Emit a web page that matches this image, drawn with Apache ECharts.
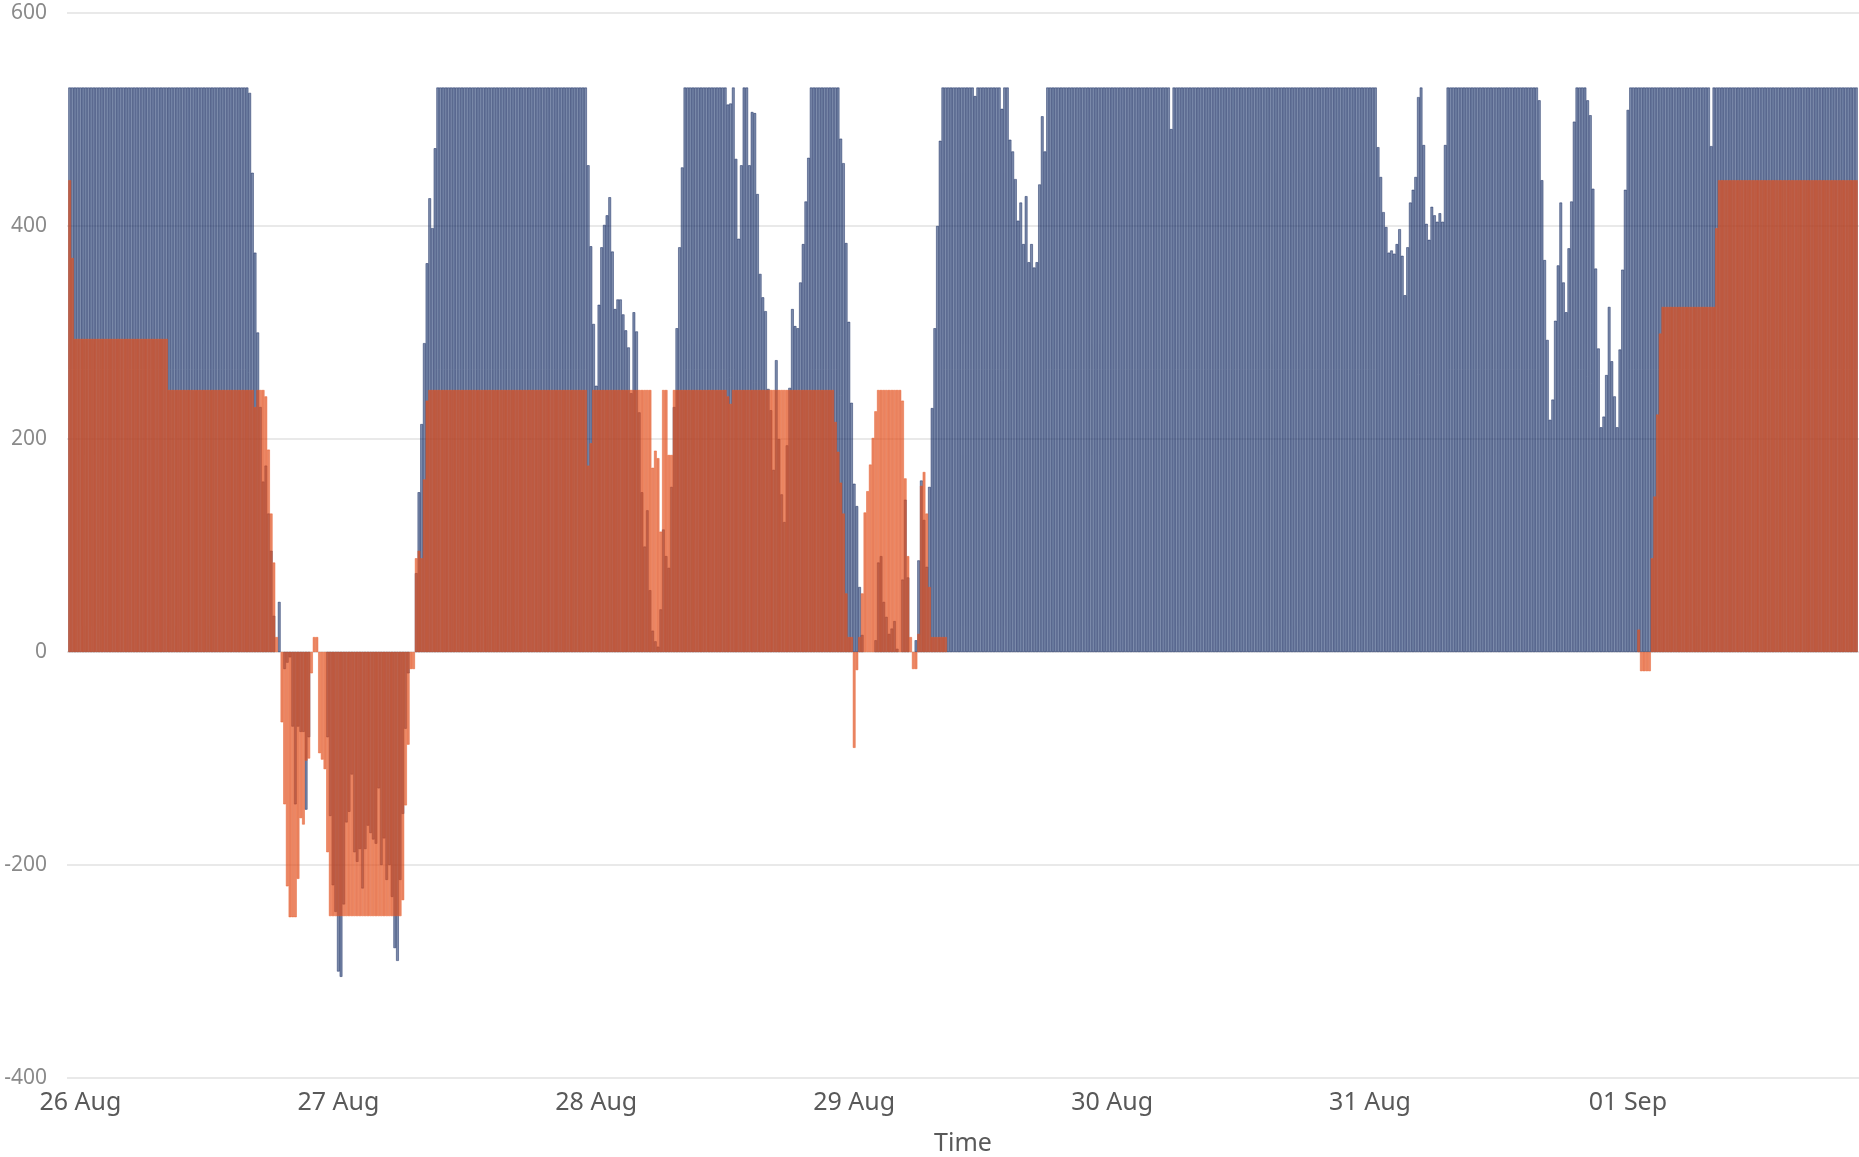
<!DOCTYPE html>
<html>
<head>
<meta charset="utf-8">
<title>Time chart</title>
<script src="https://cdn.jsdelivr.net/npm/echarts@6/dist/echarts.min.js"></script>
<style>
  html, body { margin: 0; padding: 0; background: #fff; }
  #chart { width: 1859px; height: 1157px; }
</style>
</head>
<body>
<div id="chart"></div>
<script>
// 15 minute readings, first one at 25 Aug 23:00
var startTime = new Date(2024, 7, 25, 23, 0, 0).getTime()
var stepMs = 15 * 60 * 1000

var monthNames = ['Jan', 'Feb', 'Mar', 'Apr', 'May', 'Jun', 'Jul', 'Aug', 'Sep', 'Oct', 'Nov', 'Dec']
var yTicks = [-400, -200, 0, 200, 400, 600]

// blue series, one row = 4 hours
var blueValues = [
  530, 530, 530, 530, 530, 530, 530, 530, 530, 530, 530, 530, 530, 530, 530, 530,
  530, 530, 530, 530, 530, 530, 530, 530, 530, 530, 530, 530, 530, 530, 530, 530,
  530, 530, 530, 530, 530, 530, 530, 530, 530, 530, 530, 530, 530, 530, 530, 530,
  530, 530, 530, 530, 530, 530, 530, 530, 530, 530, 530, 530, 530, 530, 530, 530,
  530, 530, 530, 525, 450, 375, 300, 230, 160, 175, 130, 95, 34, 0, 47, 0,
  -16, -10, -5, -70, -143, -70, -75, -75, -148, -80, 0, 0, 0, 0, 0, 0,
  -80, -154, -219, -244, -300, -305, -237, -160, -150, -115, -188, -197, -185, -222, -185, -163,
  -170, -176, -180, -128, -200, -175, -214, -200, -230, -278, -290, -214, -152, -72, -20, 0,
  0, 74, 150, 214, 290, 365, 426, 398, 473, 530, 530, 530, 530, 530, 530, 530,
  530, 530, 530, 530, 530, 530, 530, 530, 530, 530, 530, 530, 530, 530, 530, 530,
  530, 530, 530, 530, 530, 530, 530, 530, 530, 530, 530, 530, 530, 530, 530, 530,
  530, 530, 530, 530, 530, 530, 530, 530, 530, 530, 530, 530, 530, 530, 530, 530,
  530, 457, 381, 308, 250, 326, 380, 401, 410, 427, 376, 322, 331, 331, 317, 302,
  286, 243, 319, 301, 225, 150, 99, 133, 58, 20, 10, 5, 40, 115, 90, 79,
  155, 230, 304, 380, 455, 530, 530, 530, 530, 530, 530, 530, 530, 530, 530, 530,
  530, 530, 530, 530, 530, 514, 515, 530, 463, 388, 457, 530, 530, 457, 507, 506,
  430, 355, 333, 320, 247, 227, 171, 274, 200, 148, 122, 194, 248, 322, 306, 304,
  347, 383, 423, 464, 530, 530, 530, 530, 530, 530, 530, 530, 530, 530, 530, 482,
  459, 384, 310, 234, 158, 137, 61, 16, 0, 0, 0, 0, 11, 84, 90, 47,
  33, 17, 22, 29, 3, 0, 68, 143, 70, 0, 0, 11, 86, 161, 124, 80,
  155, 229, 304, 400, 480, 530, 530, 530, 530, 530, 530, 530, 530, 530, 530, 530,
  530, 522, 530, 530, 530, 530, 530, 530, 530, 530, 530, 510, 530, 530, 481, 470,
  444, 405, 422, 383, 428, 366, 383, 361, 366, 439, 503, 470, 530, 530, 530, 530,
  530, 530, 530, 530, 530, 530, 530, 530, 530, 530, 530, 530, 530, 530, 530, 530,
  530, 530, 530, 530, 530, 530, 530, 530, 530, 530, 530, 530, 530, 530, 530, 530,
  530, 530, 530, 530, 530, 530, 530, 530, 530, 530, 491, 530, 530, 530, 530, 530,
  530, 530, 530, 530, 530, 530, 530, 530, 530, 530, 530, 530, 530, 530, 530, 530,
  530, 530, 530, 530, 530, 530, 530, 530, 530, 530, 530, 530, 530, 530, 530, 530,
  530, 530, 530, 530, 530, 530, 530, 530, 530, 530, 530, 530, 530, 530, 530, 530,
  530, 530, 530, 530, 530, 530, 530, 530, 530, 530, 530, 530, 530, 530, 530, 530,
  530, 530, 530, 530, 530, 530, 530, 474, 446, 413, 399, 375, 377, 374, 383, 397,
  372, 335, 380, 422, 434, 446, 521, 530, 476, 402, 387, 418, 410, 404, 412, 404,
  476, 530, 530, 530, 530, 530, 530, 530, 530, 530, 530, 530, 530, 530, 530, 530,
  530, 530, 530, 530, 530, 530, 530, 530, 530, 530, 530, 530, 530, 530, 530, 530,
  530, 530, 530, 518, 443, 368, 293, 218, 237, 311, 363, 422, 347, 319, 379, 423,
  498, 530, 530, 530, 530, 518, 504, 435, 360, 285, 211, 221, 260, 324, 273, 240,
  211, 284, 359, 434, 509, 530, 530, 530, 530, 530, 530, 530, 530, 530, 530, 530,
  530, 530, 530, 530, 530, 530, 530, 530, 530, 530, 530, 530, 530, 530, 530, 530,
  530, 530, 530, 475, 530, 530, 530, 530, 530, 530, 530, 530, 530, 530, 530, 530,
  530, 530, 530, 530, 530, 530, 530, 530, 530, 530, 530, 530, 530, 530, 530, 530,
  530, 530, 530, 530, 530, 530, 530, 530, 530, 530, 530, 530, 530, 530, 530, 530,
  530, 530, 530, 530, 530, 530, 530, 530, 530, 530
]

// orange series, same slots
var orangeValues = [
  443, 370, 294, 294, 294, 294, 294, 294, 294, 294, 294, 294, 294, 294, 294, 294,
  294, 294, 294, 294, 294, 294, 294, 294, 294, 294, 294, 294, 294, 294, 294, 294,
  294, 294, 294, 294, 294, 246, 246, 246, 246, 246, 246, 246, 246, 246, 246, 246,
  246, 246, 246, 246, 246, 246, 246, 246, 246, 246, 246, 246, 246, 246, 246, 246,
  246, 246, 246, 246, 246, 230, 246, 246, 246, 240, 190, 130, 84, 14, 0, -66,
  -143, -220, -249, -249, -249, -213, -156, -162, -102, -100, -20, 14, 14, -95, -101, -110,
  -188, -248, -248, -248, -248, -248, -248, -248, -248, -248, -248, -248, -248, -248, -248, -248,
  -248, -248, -248, -248, -248, -248, -248, -248, -248, -248, -248, -248, -233, -144, -87, -16,
  -16, 88, 95, 88, 162, 236, 246, 246, 246, 246, 246, 246, 246, 246, 246, 246,
  246, 246, 246, 246, 246, 246, 246, 246, 246, 246, 246, 246, 246, 246, 246, 246,
  246, 246, 246, 246, 246, 246, 246, 246, 246, 246, 246, 246, 246, 246, 246, 246,
  246, 246, 246, 246, 246, 246, 246, 246, 246, 246, 246, 246, 246, 246, 246, 246,
  246, 175, 196, 246, 246, 246, 246, 246, 246, 246, 246, 246, 246, 246, 246, 246,
  246, 246, 246, 246, 246, 246, 246, 246, 246, 173, 189, 182, 113, 246, 246, 185,
  185, 246, 246, 246, 246, 246, 246, 246, 246, 246, 246, 246, 246, 246, 246, 246,
  246, 246, 246, 246, 246, 240, 233, 246, 246, 246, 246, 246, 246, 246, 246, 246,
  246, 246, 246, 246, 246, 246, 246, 246, 246, 246, 246, 246, 246, 246, 246, 246,
  246, 246, 246, 246, 246, 246, 246, 246, 246, 246, 246, 246, 246, 216, 188, 159,
  130, 55, 14, 14, -90, -17, 14, 55, 131, 151, 176, 201, 226, 246, 246, 246,
  246, 246, 246, 246, 246, 246, 236, 163, 90, 14, -16, -16, 17, 156, 169, 130,
  61, 14, 14, 14, 14, 14, 14, 0, 0, 0, 0, 0, 0, 0, 0, 0,
  0, 0, 0, 0, 0, 0, 0, 0, 0, 0, 0, 0, 0, 0, 0, 0,
  0, 0, 0, 0, 0, 0, 0, 0, 0, 0, 0, 0, 0, 0, 0, 0,
  0, 0, 0, 0, 0, 0, 0, 0, 0, 0, 0, 0, 0, 0, 0, 0,
  0, 0, 0, 0, 0, 0, 0, 0, 0, 0, 0, 0, 0, 0, 0, 0,
  0, 0, 0, 0, 0, 0, 0, 0, 0, 0, 0, 0, 0, 0, 0, 0,
  0, 0, 0, 0, 0, 0, 0, 0, 0, 0, 0, 0, 0, 0, 0, 0,
  0, 0, 0, 0, 0, 0, 0, 0, 0, 0, 0, 0, 0, 0, 0, 0,
  0, 0, 0, 0, 0, 0, 0, 0, 0, 0, 0, 0, 0, 0, 0, 0,
  0, 0, 0, 0, 0, 0, 0, 0, 0, 0, 0, 0, 0, 0, 0, 0,
  0, 0, 0, 0, 0, 0, 0, 0, 0, 0, 0, 0, 0, 0, 0, 0,
  0, 0, 0, 0, 0, 0, 0, 0, 0, 0, 0, 0, 0, 0, 0, 0,
  0, 0, 0, 0, 0, 0, 0, 0, 0, 0, 0, 0, 0, 0, 0, 0,
  0, 0, 0, 0, 0, 0, 0, 0, 0, 0, 0, 0, 0, 0, 0, 0,
  0, 0, 0, 0, 0, 0, 0, 0, 0, 0, 0, 0, 0, 0, 0, 0,
  0, 0, 0, 0, 0, 0, 0, 0, 0, 0, 0, 0, 0, 0, 0, 0,
  0, 0, 0, 0, 0, 0, 0, 0, 21, -18, -18, -18, -18, 88, 146, 223,
  299, 324, 324, 324, 324, 324, 324, 324, 324, 324, 324, 324, 324, 324, 324, 324,
  324, 324, 324, 324, 324, 398, 443, 443, 443, 443, 443, 443, 443, 443, 443, 443,
  443, 443, 443, 443, 443, 443, 443, 443, 443, 443, 443, 443, 443, 443, 443, 443,
  443, 443, 443, 443, 443, 443, 443, 443, 443, 443, 443, 443, 443, 443, 443, 443,
  443, 443, 443, 443, 443, 443, 443, 443, 443, 443
]

// pair each value with its timestamp; empty slots are left out so no zero-height outline is drawn
function withTime (values) {
  return values.map(function (v, i) {
    return [startTime + i * stepMs, v === 0 ? '-' : v]
  })
}

function pad (n) {
  return n < 10 ? '0' + n : '' + n
}

var chart = echarts.init(document.getElementById('chart'))
var lastTime = startTime + (blueValues.length - 1) * stepMs

chart.setOption({
  animation: false,
  grid: { left: 67, right: 0, top: 13, bottom: 79, outerBoundsMode: 'none' },
  xAxis: {
    type: 'time',
    min: startTime - stepMs / 2,
    max: lastTime + stepMs / 2,
    minInterval: 24 * 3600 * 1000,
    maxInterval: 24 * 3600 * 1000,
    name: 'Time',
    nameLocation: 'middle',
    nameGap: 53,
    nameTextStyle: { fontFamily: 'Noto Sans', fontSize: 25, color: '#595959' },
    axisLine: { show: false },
    axisTick: { show: false },
    splitLine: { show: false },
    axisLabel: {
      showMinLabel: false,
      showMaxLabel: false,
      margin: 12,
      fontFamily: 'Noto Sans',
      fontSize: 25,
      color: '#595959',
      formatter: function (val) {
        var d = new Date(val)
        return pad(d.getDate()) + ' ' + monthNames[d.getMonth()]
      }
    }
  },
  yAxis: {
    type: 'value',
    min: yTicks[0],
    max: yTicks[yTicks.length - 1],
    interval: 200,
    axisLine: { show: false },
    axisTick: { show: false },
    axisLabel: { margin: 20, fontFamily: 'Noto Sans', fontSize: 21, color: '#8a8a8a' },
    splitLine: { lineStyle: { color: '#e9e9e9', width: 2 } }
  },
  series: [
    {
      name: 'Series 1',
      type: 'bar',
      barWidth: 2.69,
      barGap: '-100%',
      itemStyle: {
        color: 'rgba(30, 55, 110, 0.58)',
        borderColor: 'rgba(14, 34, 88, 0.9)',
        borderWidth: 0.5
      },
      data: withTime(blueValues)
    },
    {
      name: 'Series 2',
      type: 'bar',
      barWidth: 2.69,
      barGap: '-100%',
      itemStyle: {
        color: 'rgba(222, 74, 26, 0.66)',
        borderColor: 'rgba(232, 88, 36, 0.9)',
        borderWidth: 0.5
      },
      data: withTime(orangeValues)
    }
  ]
})
</script>
</body>
</html>
